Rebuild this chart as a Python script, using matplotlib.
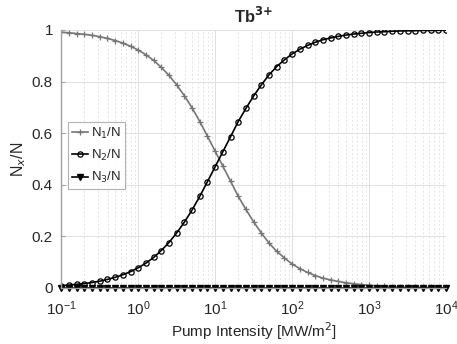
import numpy as np
import matplotlib
matplotlib.use("Agg")
import matplotlib.pyplot as plt

plt.rcParams['font.family'] = ['Liberation Sans', 'DejaVu Sans']

# pump intensity samples, 10 per decade from 1e-1 to 1e4
intensity = np.logspace(-1, 4, 51)

n1 = [0.991, 0.989, 0.986, 0.983, 0.979, 0.974, 0.967, 0.959, 0.949, 0.937,
      0.922, 0.904, 0.882, 0.855, 0.824, 0.787, 0.745, 0.698, 0.645, 0.588,
      0.530, 0.472, 0.414, 0.355, 0.304, 0.256, 0.213, 0.174, 0.142, 0.116,
      0.093, 0.075, 0.060, 0.048, 0.038, 0.031, 0.025, 0.020, 0.016, 0.013,
      0.010, 0.008, 0.007, 0.005, 0.004, 0.0035, 0.003, 0.002, 0.002, 0.0015,
      0.001]

n2 = [0.009, 0.011, 0.014, 0.017, 0.021, 0.026, 0.033, 0.041, 0.051, 0.063,
      0.078, 0.096, 0.118, 0.145, 0.176, 0.213, 0.255, 0.302, 0.355, 0.412,
      0.470, 0.528, 0.586, 0.645, 0.696, 0.744, 0.787, 0.826, 0.858, 0.884,
      0.907, 0.925, 0.940, 0.952, 0.962, 0.969, 0.975, 0.980, 0.984, 0.987,
      0.990, 0.992, 0.993, 0.995, 0.996, 0.9965, 0.997, 0.998, 0.998, 0.9985,
      0.999]

n3 = [0.0, 0.0, 0.0, 0.0, 0.0, 0.0, 0.0, 0.0, 0.0, 0.0,
      0.0, 0.0, 0.0, 0.0, 0.0, 0.0, 0.0, 0.0, 0.0, 0.0,
      0.0, 0.0, 0.0, 0.0, 0.0, 0.0, 0.0, 0.0, 0.0, 0.0,
      0.0, 0.0, 0.0, 0.0, 0.0, 0.0, 0.0, 0.0, 0.0, 0.0,
      0.0, 0.0, 0.0, 0.0, 0.0, 0.0, 0.0, 0.0, 0.0, 0.0,
      0.0]

labels = ["N$_1$/N", "N$_2$/N", "N$_3$/N"]

fig = plt.figure(figsize=(4.57, 3.44), dpi=100)
ax = fig.add_axes([0.134, 0.163, 0.842, 0.750])

ax.plot(intensity, n1, color="#767676", marker="+", markersize=4.5,
        markeredgewidth=0.9, linewidth=1.2, label=labels[0])
ax.plot(intensity, n2, color="black", marker="o", markersize=3.8,
        markerfacecolor="none", markeredgewidth=0.9, linewidth=1.2, label=labels[1])
ax.plot(intensity, n3, color="black", marker="v", markersize=4,
        linewidth=1.2, label=labels[2], clip_on=False)

ax.set_xscale("log")
ax.set_xlim(1e-1, 1e4)
ax.set_ylim(0, 1)
ax.set_yticks([0, 0.2, 0.4, 0.6, 0.8, 1])
ax.set_yticklabels(["0", "0.2", "0.4", "0.6", "0.8", "1"])

ax.grid(True, which="major", color="#e0e0e0", linewidth=0.7, linestyle="-")
ax.grid(True, which="minor", axis="x", color="#e2e2e2", linewidth=0.6, linestyle=(0, (2.5, 2.5)))

for side in ["top", "right"]:
    ax.spines[side].set_visible(False)
for side in ["left", "bottom"]:
    ax.spines[side].set_color("#a0a0a0")
    ax.spines[side].set_linewidth(1.0)

ax.tick_params(which="both", direction="in", colors="#a0a0a0", labelcolor="#262626",
               labelsize=11, top=False, right=False)
ax.tick_params(which="major", length=3)
ax.tick_params(which="minor", length=0)
ax.tick_params(axis="x", pad=8)
ax.tick_params(axis="y", pad=6)

ax.set_title(r"Tb$^{\mathbf{3{+}}}$", fontsize=12, fontweight="bold", color="#262626", pad=5)
ax.set_xlabel("Pump Intensity [MW/m$^2$]", fontsize=11, color="#262626", labelpad=2)
ax.set_ylabel("N$_x$/N", fontsize=11.5, color="#262626", labelpad=3)

leg = ax.legend(loc="upper left", bbox_to_anchor=(0.018, 0.645), fontsize=9.5,
                frameon=True, fancybox=False, borderpad=0.3, handlelength=1.2,
                handletextpad=0.2, labelspacing=0.55, borderaxespad=0)
leg.get_frame().set_edgecolor("#a0a0a0")
leg.get_frame().set_linewidth(0.8)
for t in leg.get_texts():
    t.set_color("#262626")

fig.savefig("out.png", dpi=100)
